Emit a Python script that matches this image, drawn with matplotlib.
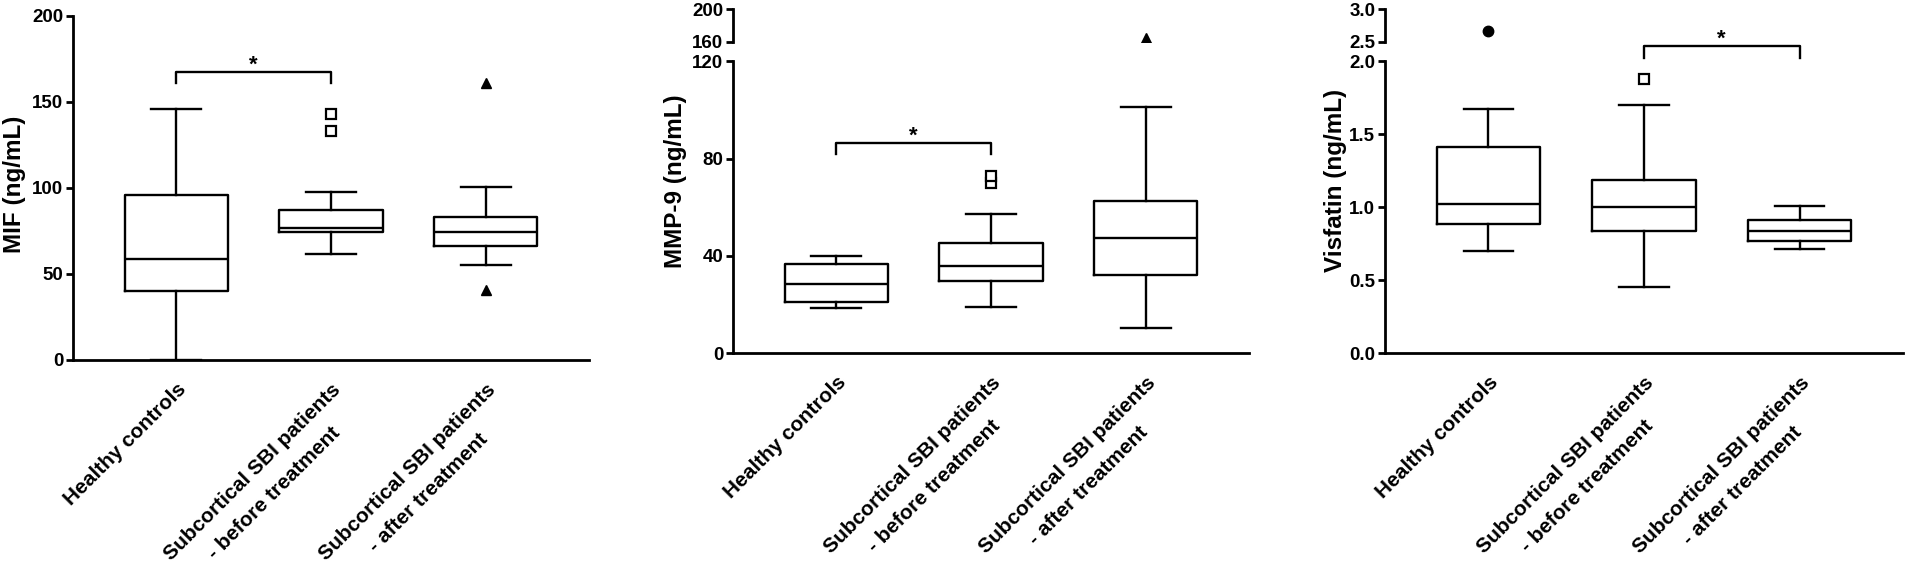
import numpy as np
import matplotlib.pyplot as plt

plt.rcParams['font.family'] = ['Liberation Sans', 'DejaVu Sans']
plt.rcParams['font.weight'] = 'bold'

groups = ["Healthy controls",
          "Subcortical SBI patients\n- before treatment",
          "Subcortical SBI patients\n- after treatment"]
positions = [1, 2, 3]

# box summaries: whisker low, Q1, median, Q3, whisker high
mif_lo = [0.0, 61.8, 55.2]
mif_q1 = [40.0, 74.6, 66.3]
mif_med = [58.7, 76.5, 74.4]
mif_q3 = [96.0, 87.3, 83.0]
mif_hi = [146.0, 97.7, 100.6]
mif_out = [[], [133.0, 143.0], [40.7, 161.0]]

mmp_lo = [18.4, 18.9, 10.3]
mmp_q1 = [21.0, 29.8, 32.1]
mmp_med = [28.3, 35.7, 47.4]
mmp_q3 = [36.6, 45.3, 62.4]
mmp_hi = [40.0, 57.0, 101.4]
mmp_out = [[], [69.8, 73.0], [164.5]]

vis_lo = [0.70, 0.454, 0.71]
vis_q1 = [0.884, 0.838, 0.765]
vis_med = [1.025, 1.002, 0.838]
vis_q3 = [1.411, 1.187, 0.911]
vis_hi = [1.671, 1.70, 1.005]
vis_out = [[2.66], [1.877], []]

# significance brackets: (left group, right group, bracket height, tip height)
mif_sig = (1, 2, 167.6, 161.0)
mmp_sig = (1, 2, 86.3, 81.9)
vis_sig = (2, 3, 2.105, 2.025)


def make_stats(lo, q1, med, q3, hi, out):
    return [dict(whislo=lo[i], q1=q1[i], med=med[i], q3=q3[i], whishi=hi[i],
                 fliers=np.array(out[i])) for i in range(len(lo))]


sq = dict(marker='s', mfc='white', mec='k', ms=6.5, mew=1.6, ls='none')
tri = dict(marker='^', mfc='k', mec='k', ms=7.5, ls='none')
dot = dict(marker='o', mfc='k', mec='k', ms=7.5, ls='none')

LW = 1.7
XFS = 15


def draw_boxes(ax, stats, fstyles):
    for i, s in enumerate(stats):
        ax.bxp([s], positions=[positions[i]], widths=0.665, capwidths=0.32,
               showfliers=True, flierprops=fstyles[i],
               boxprops=dict(color='k', lw=LW),
               whiskerprops=dict(color='k', lw=LW),
               capprops=dict(color='k', lw=LW),
               medianprops=dict(color='k', lw=LW),
               manage_ticks=False)
    ax.set_xlim(0.335, 3.665)


def style(ax, bottom=True):
    ax.set_facecolor('none')
    for sp in ['top', 'right']:
        ax.spines[sp].set_visible(False)
    ax.spines['left'].set_linewidth(2)
    ax.spines['bottom'].set_linewidth(2)
    if not bottom:
        ax.spines['bottom'].set_visible(False)
    ax.tick_params(axis='y', direction='out', length=5, width=2,
                   labelsize=13.5, pad=2)
    ax.tick_params(axis='x', length=0, labelbottom=False)
    for t in ax.get_yticklabels():
        t.set_fontweight('bold')


fig = plt.figure(figsize=(19.05, 5.65), dpi=100)
W, H = 1905.0, 565.0
renderer = fig.canvas.get_renderer()


def text_w(s):
    t = fig.text(0, 0, s, fontsize=XFS, fontweight='bold')
    w = t.get_window_extent(renderer).width
    t.remove()
    return w


def xlabels(ax):
    # each line drawn on its own, lines centred on the first one
    c = np.sqrt(0.5)
    lh = 30.0  # px between lines
    for p, g in zip(positions, groups):
        lines = g.split('\n')
        w0 = text_w(lines[0])
        for k, line in enumerate(lines):
            inset = (w0 - text_w(line)) / 2
            dx = -c * inset + c * k * lh
            dy = -20 - c * inset - c * k * lh
            ax.annotate(line, xy=(p, 0), xycoords=('data', 'axes fraction'),
                        xytext=(dx * 0.72, dy * 0.72),
                        textcoords='offset points',
                        rotation=45, rotation_mode='anchor',
                        ha='right', va='top', fontsize=XFS,
                        fontweight='bold', annotation_clip=False)


def bracket(ax, sig):
    a, b, y, tip = sig
    ax.plot([a, a, b, b], [tip, y, y, tip], color='k', lw=LW, clip_on=False)
    ax.annotate('*', xy=((a + b) / 2, y), xytext=(0, 1),
                textcoords='offset points', ha='center', va='baseline',
                fontsize=16, fontweight='bold', annotation_clip=False)


def rect(x0, x1, ytop, ybot):
    return [x0 / W, 1 - ybot / H, (x1 - x0) / W, (ybot - ytop) / H]


# ---- MIF
ax1 = fig.add_axes(rect(73, 589, 16, 360))
draw_boxes(ax1, make_stats(mif_lo, mif_q1, mif_med, mif_q3, mif_hi, mif_out),
           [sq, sq, tri])
ax1.set_ylim(0, 200)
ax1.set_yticks([0, 50, 100, 150, 200])
style(ax1)
bracket(ax1, mif_sig)
xlabels(ax1)
ax1.set_ylabel("MIF (ng/mL)", fontsize=17.5, fontweight='bold')
ax1.yaxis.set_label_coords(-0.091, 0.512)

# ---- MMP-9 (broken axis)
mmp_stats = make_stats(mmp_lo, mmp_q1, mmp_med, mmp_q3, mmp_hi, mmp_out)
ax2 = fig.add_axes(rect(733, 1249, 61.3, 353))
ax2u = fig.add_axes(rect(733, 1249, 9, 41.7))
for a in (ax2, ax2u):
    draw_boxes(a, mmp_stats, [sq, sq, tri])
ax2.set_ylim(0, 120)
ax2.set_yticks([0, 40, 80, 120])
ax2u.set_ylim(160, 200)
ax2u.set_yticks([160, 200])
style(ax2)
style(ax2u, bottom=False)
bracket(ax2, mmp_sig)
xlabels(ax2)
ax2.set_ylabel("MMP-9 (ng/mL)", fontsize=17.5, fontweight='bold')
ax2.yaxis.set_label_coords(-0.089, 0.59)

# ---- Visfatin (broken axis)
vis_stats = make_stats(vis_lo, vis_q1, vis_med, vis_q3, vis_hi, vis_out)
ax3 = fig.add_axes(rect(1385, 1903, 61.3, 353))
ax3u = fig.add_axes(rect(1385, 1903, 9, 41.7))
for a in (ax3, ax3u):
    draw_boxes(a, vis_stats, [dot, sq, sq])
ax3.set_ylim(0, 2.0)
ax3.set_yticks([0.0, 0.5, 1.0, 1.5, 2.0])
ax3.set_yticklabels(['0.0', '0.5', '1.0', '1.5', '2.0'])
ax3u.set_ylim(2.5, 3.0)
ax3u.set_yticks([2.5, 3.0])
ax3u.set_yticklabels(['2.5', '3.0'])
style(ax3)
style(ax3u, bottom=False)
bracket(ax3, vis_sig)
xlabels(ax3)
ax3.set_ylabel("Visfatin (ng/mL)", fontsize=17.5, fontweight='bold')
ax3.yaxis.set_label_coords(-0.073, 0.59)

fig.savefig('out.png', dpi=100)
